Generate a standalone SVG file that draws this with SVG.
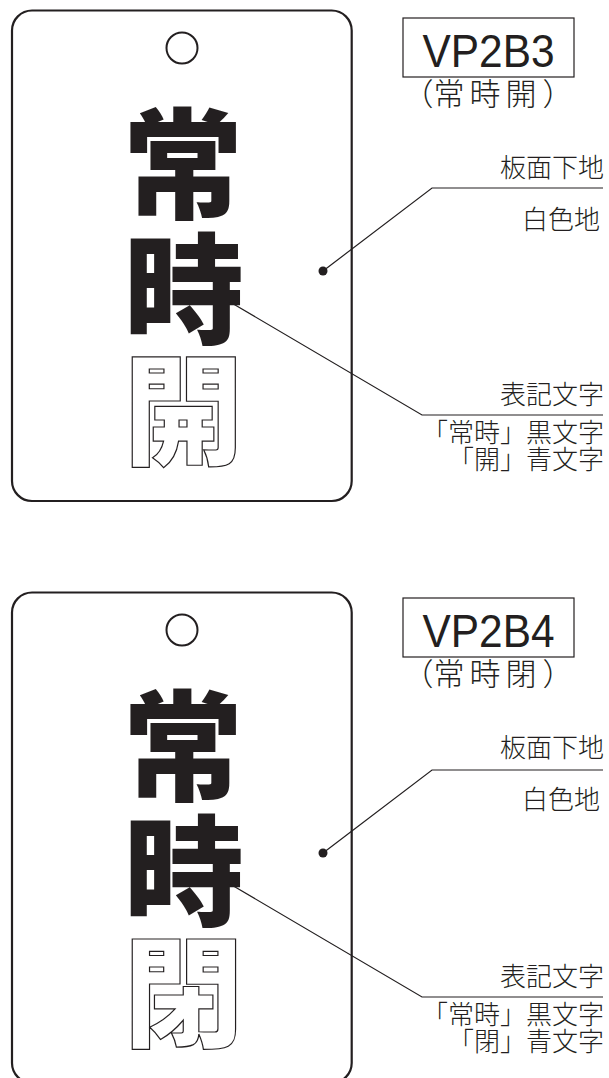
<svg xmlns="http://www.w3.org/2000/svg" width="609" height="1078" viewBox="0 0 609 1078">
<style>
.card{fill:#fff;stroke:#231f20;stroke-width:2.2}
.hole{fill:none;stroke:#231f20;stroke-width:2}
.big{font-family:"Noto Sans CJK JP","Noto Sans CJK SC",sans-serif;font-weight:900;font-size:120px;text-anchor:middle;fill:#231f20}
.outl{fill:#fff;stroke:#231f20;stroke-width:1.2}
.lbl{font-family:"Noto Sans CJK JP","Noto Sans CJK SC",sans-serif;font-weight:300;font-size:26px;fill:#231f20;text-anchor:end}
.code{font-family:"Liberation Sans",Arial,sans-serif;font-size:46px;fill:#231f20;text-anchor:middle}
.sub{font-family:"Noto Sans CJK JP","Noto Sans CJK SC",sans-serif;font-weight:300;font-size:31px;fill:#231f20;text-anchor:middle}
.box{fill:none;stroke:#231f20;stroke-width:1.2}
.lead{fill:none;stroke:#231f20;stroke-width:1.2}
.dot{fill:#231f20}
</style>
<rect width="609" height="1078" fill="#fff"/>
<g id="plate-vp2b3">
<rect class="card" x="12" y="10.5" width="339.7" height="490.5" rx="20"/>
<circle class="hole" cx="182" cy="48" r="15.5"/>
<text class="big" x="183" y="210">常</text>
<text class="big" x="184" y="335">時</text>
<text class="big outl" x="183.5" y="456">開</text>
<circle class="dot" cx="323" cy="271" r="4.5"/>
</g>
<g id="title-vp2b3">
<rect class="box" x="403" y="18" width="171" height="59"/>
<text class="code" x="488.5" y="67" textLength="132" lengthAdjust="spacingAndGlyphs">VP2B3</text>
<text class="sub" x="418 449 485 521 558" y="105">（常時開）</text>
</g>
<g id="labels-vp2b3">
<text class="lbl" x="604" y="177">板面下地</text>
<text class="lbl" x="600" y="229">白色地</text>
<text class="lbl" x="604" y="404">表記文字</text>
<text class="lbl" x="604" y="442">「常時」黒文字</text>
<text class="lbl" x="604" y="469">「開」青文字</text>
</g>
<g id="plate-vp2b4">
<rect class="card" x="12" y="592.5" width="339.7" height="490.5" rx="20"/>
<circle class="hole" cx="182" cy="630" r="15.5"/>
<text class="big" x="183" y="792">常</text>
<text class="big" x="184" y="917">時</text>
<text class="big outl" x="183.5" y="1038">閉</text>
<circle class="dot" cx="323" cy="853" r="4.5"/>
</g>
<g id="title-vp2b4">
<rect class="box" x="403" y="598" width="171" height="59"/>
<text class="code" x="488.5" y="647" textLength="132" lengthAdjust="spacingAndGlyphs">VP2B4</text>
<text class="sub" x="418 449 485 521 558" y="685">（常時閉）</text>
</g>
<g id="labels-vp2b4">
<text class="lbl" x="604" y="757">板面下地</text>
<text class="lbl" x="600" y="809">白色地</text>
<text class="lbl" x="604" y="986">表記文字</text>
<text class="lbl" x="604" y="1024">「常時」黒文字</text>
<text class="lbl" x="604" y="1051">「閉」青文字</text>
</g>
<g id="connectors">
<polyline class="lead" points="323,271 432,188 603,188"/>
<polyline class="lead" points="230,302 422,415 603,415"/>
<polyline class="lead" points="323,853 432,770 603,770"/>
<polyline class="lead" points="230,884 422,997 603,997"/>
</g>
</svg>
